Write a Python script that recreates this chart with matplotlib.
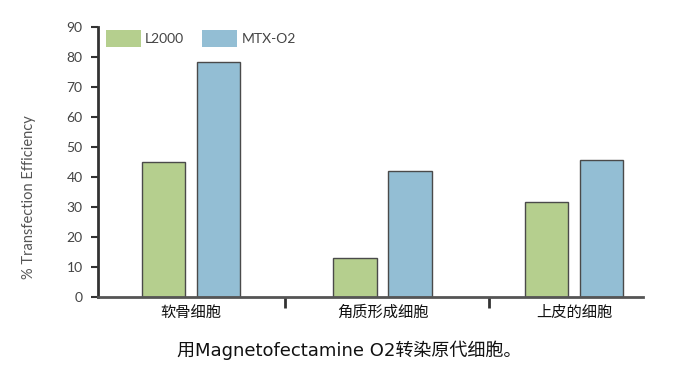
import matplotlib.pyplot as plt
import numpy as np

plt.rcParams['font.family'] = ['Noto Sans CJK SC', 'DejaVu Sans']

# Данные
cells = ['软骨细胞', '角质形成细胞', '上皮的细胞']
l2000 = [44.8, 13.0, 31.5]
mtx_o2 = [78.2, 41.8, 45.6]
y_ticks = [0, 10, 20, 30, 40, 50, 60, 70, 80, 90]

green = '#B5CF8E'
blue = '#93BED4'
edge = '#4a4a4a'

fig = plt.figure(figsize=(7, 3.77), dpi=100)
ax = fig.add_axes([0.14, 0.2122, 0.7786, 0.717])

x = np.arange(len(cells))
w = 0.228
ax.bar(x - 0.144, l2000, width=w, color=green, edgecolor=edge, linewidth=1, label='L2000')
ax.bar(x + 0.144, mtx_o2, width=w, color=blue, edgecolor=edge, linewidth=1, label='MTX-O2')

ax.set_xlim(-0.486, 2.36)
ax.set_ylim(0, 90)

# Оси
for s in ['top', 'right']:
    ax.spines[s].set_visible(False)
ax.spines['left'].set_linewidth(2)
ax.spines['left'].set_color('#333333')
ax.spines['bottom'].set_linewidth(2)
ax.spines['bottom'].set_color('#555555')

ax.set_yticks(y_ticks)
ax.set_yticklabels([str(t) for t in y_ticks], fontsize=10, color='#444444',
                   family=['Lato', 'DejaVu Sans'])
ax.tick_params(axis='y', length=5, width=1.5, color='#333333', pad=6)

ax.set_xticks(x)
ax.set_xticklabels(cells, fontsize=11, color='#111111')
ax.tick_params(axis='x', which='major', length=0, pad=5)
ax.set_xticks([0.49, 1.556], minor=True)
ax.tick_params(axis='x', which='minor', length=8, width=2, color='#333333')

# Подпись оси Y (смещена вниз, как на образце)
fig.text(0.041, 0.478, '% Transfection Efficiency', rotation=90, ha='center', va='center',
         fontsize=10.5, color='#555555', family=['Lato', 'DejaVu Sans'])

ax.legend(loc='upper left', bbox_to_anchor=(0.0, 1.02), ncol=2, frameon=False,
          handlelength=2.5, handleheight=1.6, columnspacing=1.3,
          handletextpad=0.3, borderaxespad=0.2,
          prop={'family': ['Lato', 'DejaVu Sans'], 'size': 10})
for h in ax.get_legend().legend_handles:
    h.set_edgecolor('none')
for t in ax.get_legend().get_texts():
    t.set_color('#444444')

fig.text(0.4993, 0.072, '用Magnetofectamine O2转染原代细胞。', ha='center', va='center',
         fontsize=13, color='#111111', family=['DejaVu Sans', 'Noto Sans CJK SC'])

plt.savefig('out.png', dpi=100)
